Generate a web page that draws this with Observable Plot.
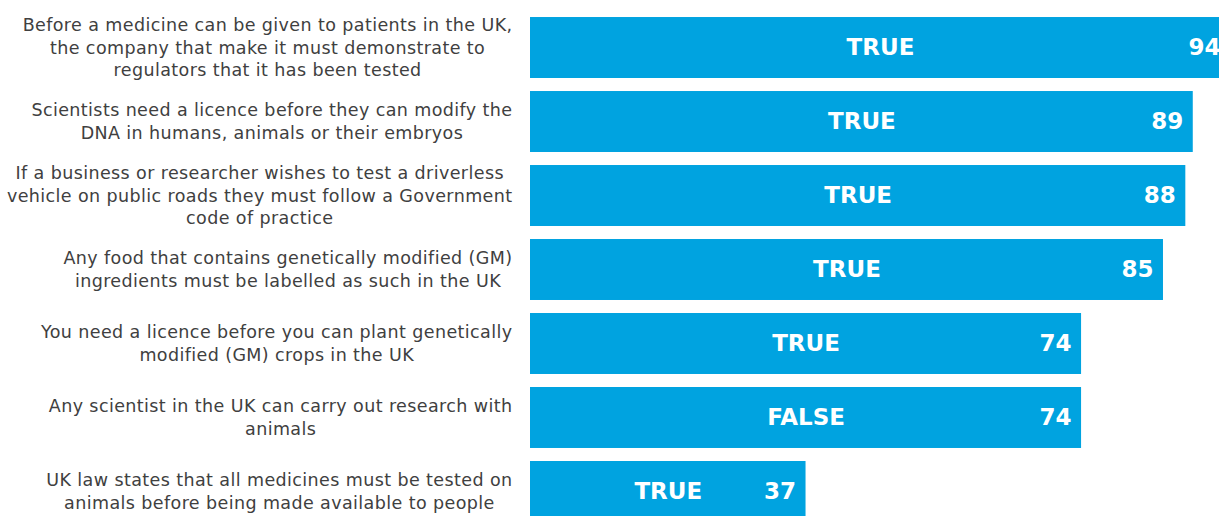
<!DOCTYPE html>
<html><head><meta charset="utf-8">
<script src="https://cdn.jsdelivr.net/npm/d3@7"></script>
<script src="https://cdn.jsdelivr.net/npm/@observablehq/plot@0.6"></script>
<style>body{margin:0;overflow:hidden;background:#fff}</style>
</head><body><div id="chart"></div>
<script>
const statements = [
  "Before a medicine can be given to patients in the UK,\nthe company that make it must demonstrate to\nregulators that it has been tested",
  "Scientists need a licence before they can modify the\nDNA in humans, animals or their embryos",
  "If a business or researcher wishes to test a driverless\nvehicle on public roads they must follow a Government\ncode of practice",
  "Any food that contains genetically modified (GM)\ningredients must be labelled as such in the UK",
  "You need a licence before you can plant genetically\nmodified (GM) crops in the UK",
  "Any scientist in the UK can carry out research with\nanimals",
  "UK law states that all medicines must be tested on\nanimals before being made available to people"
];
const values = [94, 89, 88, 85, 74, 74, 37];
const answers = ["TRUE", "TRUE", "TRUE", "TRUE", "TRUE", "FALSE", "TRUE"];

const data = statements.map((s, i) => ({s, v: values[i], a: answers[i]}));

const labelSize = 17.5;
const spacing = 0.4;
const ctx = document.createElement("canvas").getContext("2d");
ctx.font = labelSize + "px 'DejaVu Sans'";
const labelRight = 512;
const labelMarks = data.map(d => {
  const w = d3.max(d.s.split("\n"), l => ctx.measureText(l).width + l.length * spacing);
  return Plot.text([d], {
    y: "s", text: "s", frameAnchor: "left", textAnchor: "middle",
    dx: labelRight - w / 2, dy: -1.5, fontSize: labelSize, lineHeight: 1.286, fill: "#404040"
  });
});

const chart = Plot.plot({
  width: 1219, height: 516,
  marginLeft: 0, marginRight: 0, marginTop: 0, marginBottom: 0,
  style: {fontFamily: "'DejaVu Sans', Verdana, sans-serif", background: "#fff"},
  x: {domain: [0, 94], range: [530, 1230], axis: null},
  y: {domain: statements, range: [4, 535], padding: 0.176, round: false, axis: null},
  marks: [
    Plot.barX(data, {y: "s", x: "v", fill: "#00A3E0"}),
    Plot.text(data, {y: "s", x: d => d.v / 2, text: "a", fill: "white", fontWeight: "bold", fontSize: 23, textAnchor: "middle"}),
    Plot.text(data, {y: "s", x: "v", text: d => String(d.v), fill: "white", fontWeight: "bold", fontSize: 23, textAnchor: "end", dx: -10}),
    ...labelMarks
  ]
});
d3.select(chart).selectAll("g[aria-label='text']").filter((d, i) => i >= 2)
  .attr("letter-spacing", spacing + "px");
document.getElementById("chart").appendChild(chart);
</script>
</body></html>
